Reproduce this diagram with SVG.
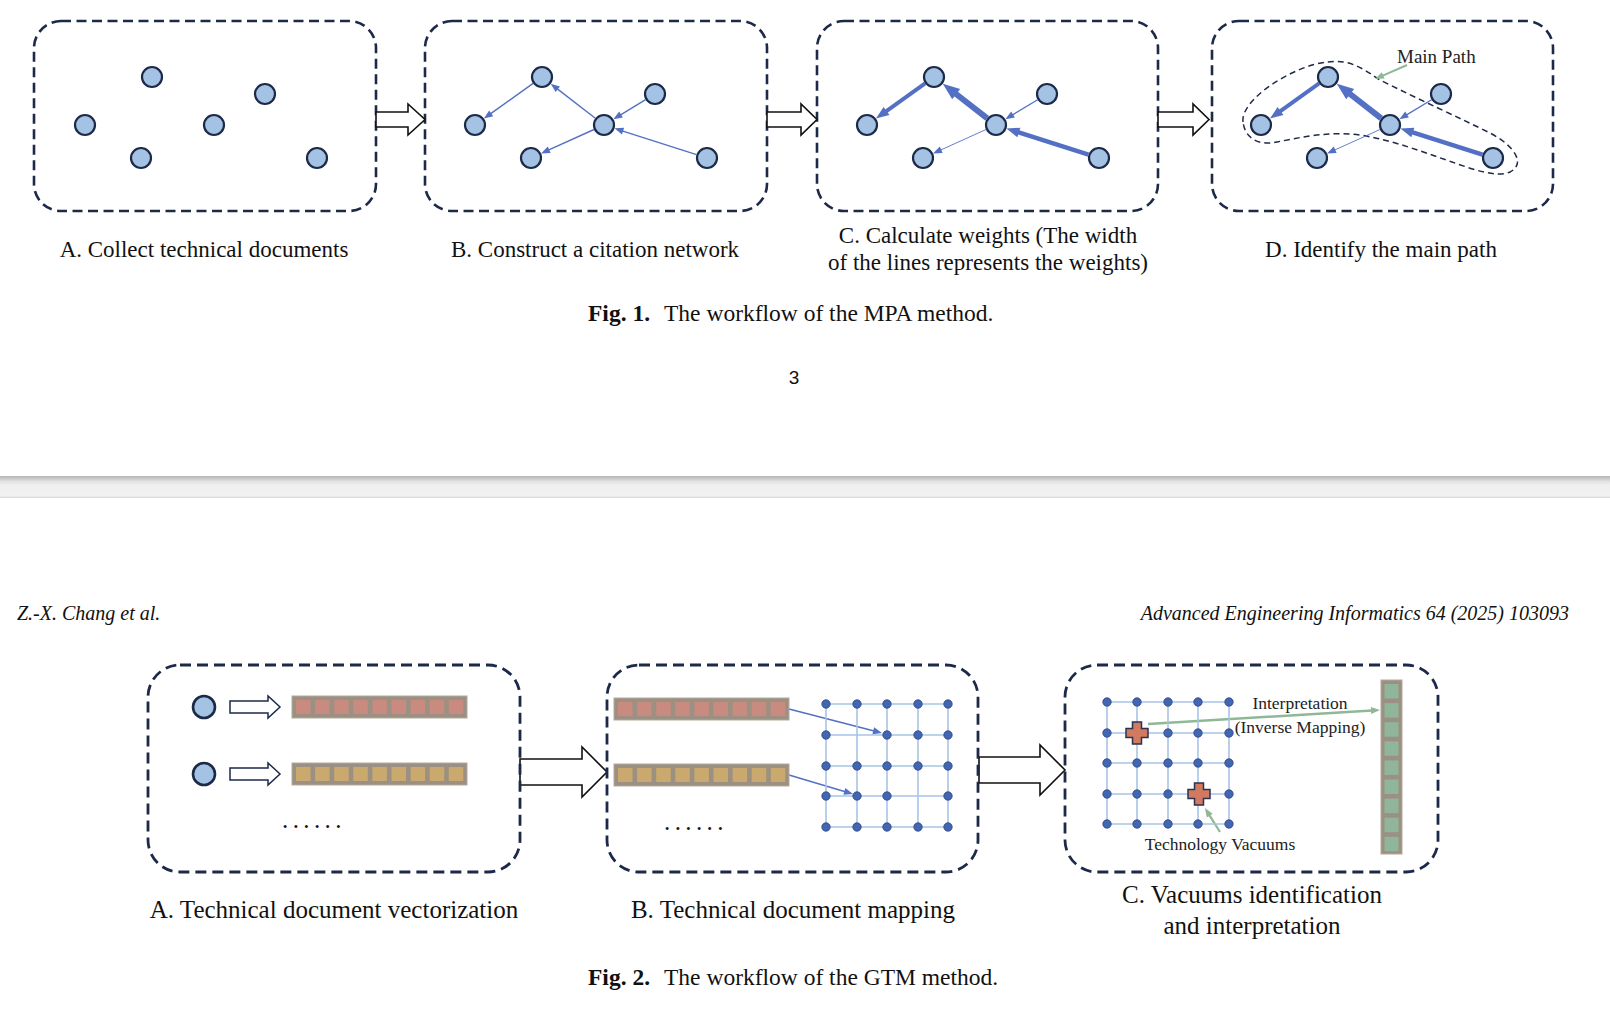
<svg xmlns="http://www.w3.org/2000/svg" xmlns:xlink="http://www.w3.org/1999/xlink" width="1610" height="1022" viewBox="0 0 1610 1022">
<style>
.box{fill:none;stroke:#1c2949;stroke-width:2.6;stroke-dasharray:10 5.5}
.nd{fill:#a4c2e3;stroke:#1c2a48;stroke-width:2.2}
.e{stroke:#5470c5;fill:none}
.blk{fill:#fff;stroke:#111;stroke-width:1.6}
.lbl{font-family:"Liberation Serif","Times New Roman",serif;font-size:23px;fill:#111;text-anchor:middle}
.lbl2{font-family:"Liberation Serif","Times New Roman",serif;font-size:25px;fill:#111;text-anchor:middle}
.cap{font-family:"Liberation Serif","Times New Roman",serif;font-size:23.5px;fill:#111}
.sm{font-family:"Liberation Serif","Times New Roman",serif;font-size:17.5px;fill:#222}
.hdr{font-family:"Liberation Serif","Times New Roman",serif;font-size:20px;font-style:italic;fill:#111}
.bar{fill:#9b9081;stroke:#b3a99c;stroke-width:1}
.cr{fill:#c98a80}
.cy{fill:#c9a96e}
.cg{fill:#8fb69a}
.gl{stroke:#a8c4e8;stroke-width:1.6;fill:none}
.gd{fill:#4267b2;stroke:#2a3f80;stroke-width:0.8}
.plus{fill:#d17a5f;stroke:#2a3350;stroke-width:1.5}
.grn{stroke:#8fb897;fill:none}
</style>
<defs>
<marker id="ah-s" markerUnits="userSpaceOnUse" markerWidth="12" markerHeight="10" refX="1" refY="3.5" orient="auto" overflow="visible"><path d="M0,0 L9,3.5 L0,7 Z" fill="#5470c5"/></marker>
<marker id="ah-m" markerUnits="userSpaceOnUse" markerWidth="16" markerHeight="12" refX="1" refY="5" orient="auto" overflow="visible"><path d="M0,0 L13,5 L0,10 Z" fill="#5470c5"/></marker>
<marker id="ah-l" markerUnits="userSpaceOnUse" markerWidth="20" markerHeight="15" refX="1" refY="6.5" orient="auto" overflow="visible"><path d="M0,0 L17,6.5 L0,13 Z" fill="#5470c5"/></marker>
<marker id="ah-g" markerUnits="userSpaceOnUse" markerWidth="12" markerHeight="10" refX="1" refY="3.5" orient="auto" overflow="visible"><path d="M0,0 L9,3.5 L0,7 Z" fill="#8fb897"/></marker>
<linearGradient id="sep" x1="0" y1="0" x2="0" y2="1">
<stop offset="0" stop-color="#b4b4b4"/><stop offset="0.25" stop-color="#e2e2e2"/><stop offset="0.4" stop-color="#efefef"/><stop offset="0.9" stop-color="#f1f1f1"/><stop offset="1" stop-color="#d9d9d9"/>
</linearGradient>
<g id="nodes6">
<circle class="nd" cx="152" cy="77" r="10"/>
<circle class="nd" cx="265" cy="94" r="10"/>
<circle class="nd" cx="85" cy="125" r="10"/>
<circle class="nd" cx="214" cy="125" r="10"/>
<circle class="nd" cx="141" cy="158" r="10"/>
<circle class="nd" cx="317" cy="158" r="10"/>
</g>
<g id="barR"><rect class="bar" width="175" height="22"/>
<rect class="cr" x="4" y="4" width="14.5" height="14"/><rect class="cr" x="23.1" y="4" width="14.5" height="14"/><rect class="cr" x="42.2" y="4" width="14.5" height="14"/><rect class="cr" x="61.3" y="4" width="14.5" height="14"/><rect class="cr" x="80.4" y="4" width="14.5" height="14"/><rect class="cr" x="99.5" y="4" width="14.5" height="14"/><rect class="cr" x="118.6" y="4" width="14.5" height="14"/><rect class="cr" x="137.7" y="4" width="14.5" height="14"/><rect class="cr" x="156.8" y="4" width="14.5" height="14"/>
</g>
<g id="barY"><rect class="bar" width="175" height="22"/>
<rect class="cy" x="4" y="4" width="14.5" height="14"/><rect class="cy" x="23.1" y="4" width="14.5" height="14"/><rect class="cy" x="42.2" y="4" width="14.5" height="14"/><rect class="cy" x="61.3" y="4" width="14.5" height="14"/><rect class="cy" x="80.4" y="4" width="14.5" height="14"/><rect class="cy" x="99.5" y="4" width="14.5" height="14"/><rect class="cy" x="118.6" y="4" width="14.5" height="14"/><rect class="cy" x="137.7" y="4" width="14.5" height="14"/><rect class="cy" x="156.8" y="4" width="14.5" height="14"/>
</g>
<path id="plusShape" d="M-4.5,-11 H4.5 V-4.5 H11 V4.5 H4.5 V11 H-4.5 V4.5 H-11 V-4.5 H-4.5 Z"/>
</defs>

<rect width="1610" height="1022" fill="#fff"/>

<!-- ===== Fig 1 ===== -->
<g id="fig1-A">
<rect class="box" x="34" y="21" width="342" height="190" rx="27"/>
<use xlink:href="#nodes6"/>
<text class="lbl" x="204" y="257">A. Collect technical documents</text>
</g>
<g id="fig1-B">
<rect class="box" x="425" y="21" width="342" height="190" rx="27"/>
<use xlink:href="#nodes6" transform="translate(390,0)"/>
<text class="lbl" x="595" y="257">B. Construct a citation network</text>
</g>
<g id="fig1-C">
<rect class="box" x="817" y="21" width="341" height="190" rx="27"/>
<use xlink:href="#nodes6" transform="translate(782,0)"/>
<text class="lbl" x="988" y="243">C. Calculate weights (The width</text>
<text class="lbl" x="988" y="270">of the lines represents the weights)</text>
</g>
<g id="fig1-D">
<rect class="box" x="1212" y="21" width="341" height="190" rx="27"/>
<path d="M1243,122 C1240,100 1292,66 1327,62 C1350,59 1362,68 1380,80 C1420,100 1460,118 1490,133 C1515,146 1526,164 1510,172 C1496,178 1472,169 1452,162 C1420,151 1392,140 1360,135 C1330,131 1302,137 1277,142 C1258,146 1245,138 1243,122 Z" fill="none" stroke="#1e2a47" stroke-width="1.5" stroke-dasharray="6 4"/>
<use xlink:href="#nodes6" transform="translate(1176,0)"/>
<text class="sm" x="1397" y="63" style="font-size:19px">Main Path</text>
<text class="lbl" x="1381" y="257">D. Identify the main path</text>
</g>

<g id="connectors">
<!-- block arrows fig1 -->
<path class="blk" d="M376,112 H408 V104 L425,119.5 L408,135 V127 H376 Z"/>
<path class="blk" d="M767,112 H801 V104 L817,119.5 L801,135 V127 H767 Z"/>
<path class="blk" d="M1158,112 H1193 V104 L1209,119.5 L1193,135 V127 H1158 Z"/>
<!-- B edges -->
<g transform="translate(390,0)">
<line class="e" stroke-width="1.4" x1="143.1" y1="83.4" x2="100.4" y2="113.9" marker-end="url(#ah-s)"/>
<line class="e" stroke-width="1.4" x1="205.3" y1="118.3" x2="167.0" y2="88.6" marker-end="url(#ah-s)"/>
<line class="e" stroke-width="1.4" x1="255.6" y1="99.7" x2="230.2" y2="115.1" marker-end="url(#ah-s)"/>
<line class="e" stroke-width="1.4" x1="204" y1="129.5" x2="158.3" y2="150.2" marker-end="url(#ah-s)"/>
<line class="e" stroke-width="1.4" x1="306.5" y1="154.6" x2="232.1" y2="130.8" marker-end="url(#ah-s)"/>
</g>
<!-- C edges -->
<g transform="translate(782,0)">
<line class="e" stroke-width="4" x1="143.1" y1="83.4" x2="103.7" y2="111.6" marker-end="url(#ah-m)"/>
<line class="e" stroke-width="6" x1="205.3" y1="118.3" x2="173.4" y2="93.5" marker-end="url(#ah-l)"/>
<line class="e" stroke-width="1.3" x1="255.6" y1="99.7" x2="230.2" y2="115.1" marker-end="url(#ah-s)"/>
<line class="e" stroke-width="0.9" x1="204" y1="129.5" x2="158.3" y2="150.2" marker-end="url(#ah-s)"/>
<line class="e" stroke-width="4.5" x1="306.5" y1="154.6" x2="235.9" y2="132.1" marker-end="url(#ah-m)"/>
</g>
<!-- D edges -->
<g transform="translate(1176,0)">
<line class="e" stroke-width="4" x1="143.1" y1="83.4" x2="103.7" y2="111.6" marker-end="url(#ah-m)"/>
<line class="e" stroke-width="6" x1="205.3" y1="118.3" x2="173.4" y2="93.5" marker-end="url(#ah-l)"/>
<line class="e" stroke-width="1.3" x1="255.6" y1="99.7" x2="230.2" y2="115.1" marker-end="url(#ah-s)"/>
<line class="e" stroke-width="0.9" x1="204" y1="129.5" x2="158.3" y2="150.2" marker-end="url(#ah-s)"/>
<line class="e" stroke-width="4.5" x1="306.5" y1="154.6" x2="235.9" y2="132.1" marker-end="url(#ah-m)"/>
</g>
<line class="grn" stroke-width="2" x1="1407" y1="65" x2="1382.3" y2="75.8" marker-end="url(#ah-g)"/>

<!-- fig2 arrows -->
<path class="blk" d="M520,759 H582 V747 L607,772 L582,797 V785 H520 Z"/>
<path class="blk" d="M979,757 H1040 V745 L1065,770 L1040,795 V783 H979 Z"/>
<path class="blk" style="stroke:#1c2b4a;stroke-width:1.5" d="M230,701 H268 V696 L280,707 L268,718 V713 H230 Z"/>
<path class="blk" style="stroke:#1c2b4a;stroke-width:1.5" d="M230,768 H268 V763 L280,774 L268,785 V780 H230 Z"/>
<line class="e" stroke-width="1.5" x1="789" y1="709" x2="874.2" y2="731" marker-end="url(#ah-s)"/>
<line class="e" stroke-width="1.5" x1="789" y1="775" x2="845.3" y2="791.7" marker-end="url(#ah-s)"/>
<line class="grn" stroke-width="2.5" x1="1148" y1="724" x2="1372" y2="710.5" marker-end="url(#ah-g)"/>
<line class="grn" stroke-width="2.2" x1="1220" y1="832" x2="1209.2" y2="814.8" marker-end="url(#ah-g)"/>
</g>

<text class="cap" x="588" y="321"><tspan font-weight="bold">Fig. 1.</tspan><tspan x="664">The workflow of the MPA method.</tspan></text>
<text x="794" y="384" text-anchor="middle" style="font-family:'Liberation Sans',Arial,sans-serif;font-size:19px;fill:#111">3</text>

<!-- separator -->
<rect x="0" y="476" width="1610" height="22" fill="url(#sep)"/>

<text class="hdr" x="17" y="620">Z.-X. Chang et al.</text>
<text class="hdr" x="1569" y="620" text-anchor="end">Advanced Engineering Informatics 64 (2025) 103093</text>

<!-- ===== Fig 2 ===== -->
<g id="fig2-A">
<rect class="box" style="stroke-width:2.8;stroke-dasharray:11 6" x="148" y="665" width="372" height="207" rx="32"/>
<circle class="nd" style="stroke-width:2.6" cx="204" cy="707" r="11"/>
<circle class="nd" style="stroke-width:2.6" cx="204" cy="774" r="11"/>
<use xlink:href="#barR" x="292" y="696"/>
<use xlink:href="#barY" x="292" y="763"/>
<text x="282" y="828" style="font-family:'Liberation Serif',serif;font-size:25px;letter-spacing:4.4px;fill:#111">......</text>
<text class="lbl2" x="334" y="918">A. Technical document vectorization</text>
</g>
<g id="fig2-B">
<rect class="box" style="stroke-width:2.8;stroke-dasharray:11 6" x="607" y="665" width="371" height="207" rx="32"/>
<use xlink:href="#barR" x="614" y="698"/>
<use xlink:href="#barY" x="614" y="764"/>
<text x="664" y="830" style="font-family:'Liberation Serif',serif;font-size:25px;letter-spacing:4.4px;fill:#111">......</text>
<g class="gl">
<path d="M826,704 H948 M826,735 H948 M826,766 H948 M826,796 H948 M826,827 H948 M826,704 V827 M857,704 V827 M887,704 V827 M918,704 V827 M948,704 V827"/>
</g>
<g>
<circle class="gd" cx="826" cy="704" r="4.2"/><circle class="gd" cx="857" cy="704" r="4.2"/><circle class="gd" cx="887" cy="704" r="4.2"/><circle class="gd" cx="918" cy="704" r="4.2"/><circle class="gd" cx="948" cy="704" r="4.2"/>
<circle class="gd" cx="826" cy="735" r="4.2"/><circle class="gd" cx="887" cy="735" r="4.2"/><circle class="gd" cx="918" cy="735" r="4.2"/><circle class="gd" cx="948" cy="735" r="4.2"/>
<circle class="gd" cx="826" cy="766" r="4.2"/><circle class="gd" cx="857" cy="766" r="4.2"/><circle class="gd" cx="887" cy="766" r="4.2"/><circle class="gd" cx="918" cy="766" r="4.2"/><circle class="gd" cx="948" cy="766" r="4.2"/>
<circle class="gd" cx="826" cy="796" r="4.2"/><circle class="gd" cx="857" cy="796" r="4.2"/><circle class="gd" cx="887" cy="796" r="4.2"/><circle class="gd" cx="948" cy="796" r="4.2"/>
<circle class="gd" cx="826" cy="827" r="4.2"/><circle class="gd" cx="857" cy="827" r="4.2"/><circle class="gd" cx="887" cy="827" r="4.2"/><circle class="gd" cx="918" cy="827" r="4.2"/><circle class="gd" cx="948" cy="827" r="4.2"/>
</g>
<text class="lbl2" x="793" y="918">B. Technical document mapping</text>
</g>
<g id="fig2-C">
<rect class="box" style="stroke-width:2.8;stroke-dasharray:11 6" x="1065" y="665" width="373" height="207" rx="32"/>
<g class="gl">
<path d="M1107,702 H1229 M1107,733 H1229 M1107,763 H1229 M1107,794 H1229 M1107,824 H1229 M1107,702 V824 M1137,702 V824 M1168,702 V824 M1198,702 V824 M1229,702 V824"/>
</g>
<g>
<circle class="gd" cx="1107" cy="702" r="4.2"/><circle class="gd" cx="1137" cy="702" r="4.2"/><circle class="gd" cx="1168" cy="702" r="4.2"/><circle class="gd" cx="1198" cy="702" r="4.2"/><circle class="gd" cx="1229" cy="702" r="4.2"/>
<circle class="gd" cx="1107" cy="733" r="4.2"/><circle class="gd" cx="1168" cy="733" r="4.2"/><circle class="gd" cx="1198" cy="733" r="4.2"/><circle class="gd" cx="1229" cy="733" r="4.2"/>
<circle class="gd" cx="1107" cy="763" r="4.2"/><circle class="gd" cx="1137" cy="763" r="4.2"/><circle class="gd" cx="1168" cy="763" r="4.2"/><circle class="gd" cx="1198" cy="763" r="4.2"/><circle class="gd" cx="1229" cy="763" r="4.2"/>
<circle class="gd" cx="1107" cy="794" r="4.2"/><circle class="gd" cx="1137" cy="794" r="4.2"/><circle class="gd" cx="1168" cy="794" r="4.2"/><circle class="gd" cx="1229" cy="794" r="4.2"/>
<circle class="gd" cx="1107" cy="824" r="4.2"/><circle class="gd" cx="1137" cy="824" r="4.2"/><circle class="gd" cx="1168" cy="824" r="4.2"/><circle class="gd" cx="1198" cy="824" r="4.2"/><circle class="gd" cx="1229" cy="824" r="4.2"/>
</g>
<use xlink:href="#plusShape" class="plus" transform="translate(1137,733)"/>
<use xlink:href="#plusShape" class="plus" transform="translate(1199,794)"/>
<rect class="bar" x="1381" y="680" width="21" height="174"/>
<g class="cg">
<rect x="1384.5" y="684" width="14" height="14.5"/><rect x="1384.5" y="703.1" width="14" height="14.5"/><rect x="1384.5" y="722.2" width="14" height="14.5"/><rect x="1384.5" y="741.3" width="14" height="14.5"/><rect x="1384.5" y="760.4" width="14" height="14.5"/><rect x="1384.5" y="779.5" width="14" height="14.5"/><rect x="1384.5" y="798.6" width="14" height="14.5"/><rect x="1384.5" y="817.7" width="14" height="14.5"/><rect x="1384.5" y="836.8" width="14" height="14.5"/>
</g>
<text class="sm" x="1300" y="709" text-anchor="middle">Interpretation</text>
<text class="sm" x="1300" y="733" text-anchor="middle">(Inverse Mapping)</text>
<text class="sm" x="1220" y="850" text-anchor="middle">Technology Vacuums</text>
<text class="lbl2" x="1252" y="903">C. Vacuums identification</text>
<text class="lbl2" x="1252" y="934">and interpretation</text>
</g>

<text class="cap" x="588" y="985"><tspan font-weight="bold">Fig. 2.</tspan><tspan x="664">The workflow of the GTM method.</tspan></text>
</svg>
